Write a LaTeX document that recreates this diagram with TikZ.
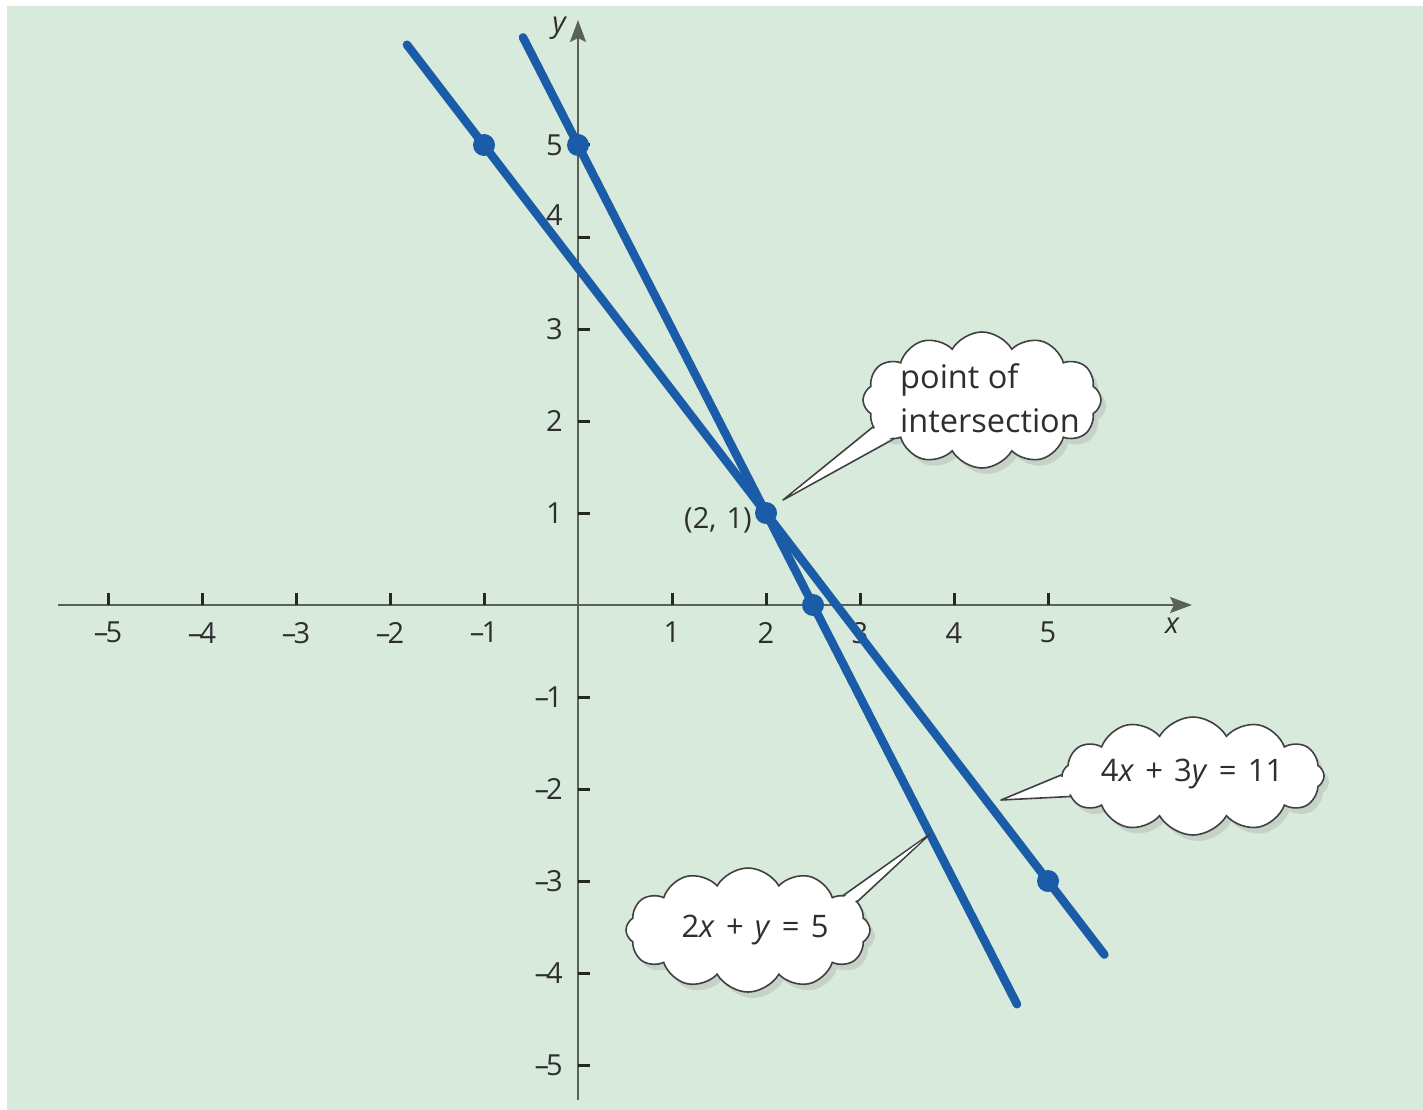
\documentclass[tikz,border=0pt]{standalone}
\usepackage{fontspec}
\setmainfont{Open Sans}
\usetikzlibrary{shapes.symbols,shadows,arrows.meta,calc}
\definecolor{bg}{HTML}{D8EADC}
\definecolor{lineblue}{HTML}{1A5CA8}
\definecolor{axisgray}{HTML}{5A605A}
\definecolor{txt}{HTML}{2E2E2E}
\newcommand{\opsp}{\hspace{0.36em}}
\newcommand{\mns}{–\kern-0.1em}
\begin{document}
\begin{tikzpicture}[x=1pt,y=-1pt,
  lbl/.style={font=\fontsize{29}{32}\selectfont, text=txt, inner sep=0pt},
  axisline/.style={draw=axisgray, line width=2pt, -{Stealth[length=22pt,width=16pt,inset=4pt]}},
  tickmark/.style={draw=black!85, line width=3pt},
  graphline/.style={draw=lineblue, line width=8.5pt, line cap=round},
  dotmark/.style={fill=lineblue},
  bubble/.style={cloud, cloud puffs=12, cloud puff arc=120, cloud ignores aspect,
     draw=black!75, line width=1.6pt, fill=white, inner sep=0pt,
     drop shadow={opacity=0.22, shadow xshift=5pt, shadow yshift=-6pt}},
  bubbletext/.style={text=txt, inner sep=0pt, font=\fontsize{31}{44}\selectfont, align=left},
  pointer/.style={draw=black!75, line width=1.6pt, fill=white, line join=round},
  pointerfill/.style={fill=white}]
\useasboundingbox (0,0) rectangle (1423,1110);
\fill[bg] (7,6) rectangle (1423,1110);

% axes
\coordinate (xs) at (58,605);
\coordinate (xe) at (1192,605);
\coordinate (ys) at (578,1100);
\coordinate (ye) at (578,20);
\draw[axisline] (xs) -- (xe);
\draw[axisline] (ys) -- (ye);
\node[lbl, font=\fontsize{29}{32}\selectfont\itshape, anchor=east] (ylab) at (566,28) {y};
\node[lbl, font=\fontsize{29}{32}\selectfont\itshape] (xlab) at (1172,626) {x};

\begin{scope}[shift={(578,605)}, x=94pt, y=92pt]
  \foreach \i/\t in {-5/\mns5,-4/\mns4,-3/\mns3,-2/\mns2,-1/\mns1,1/1,2/2,3/3,4/4,5/5}{
    \draw[tickmark] (\i,0) -- ++(0pt,12pt);
    \node[lbl, below=17pt] (xl\i) at (\i,0) {\t};
  }
  \foreach \i/\t in {-5/\mns5,-4/\mns4,-3/\mns3,-2/\mns2,-1/\mns1,1/1,2/2,3/3,5/5}{
    \draw[tickmark] (0,\i) -- ++(12pt,0pt);
    \node[lbl, left=15pt] (yl\i) at (0,\i) {\t};
  }
  \draw[tickmark] (0,4) -- ++(12pt,0pt);
  \node[lbl, left=15pt, yshift=22pt] (yl4) at (0,4) {4};

  % lines
  \coordinate (A1) at (-0.585,6.17);
  \coordinate (A2) at (4.67,-4.34);
  \coordinate (B1) at (-1.82,6.09);
  \coordinate (B2) at (5.6,-3.8);
  \draw[graphline] (B1) -- (B2);
  \draw[graphline] (A1) -- (A2);
  \coordinate (P) at (2,1);
  \fill[dotmark] (0,5) circle (11pt);
  \fill[dotmark] (-1,5) circle (11pt);
  \fill[dotmark] (2.5,0) circle (11pt);
  \fill[dotmark] (5,-3) circle (11pt);
  \fill[dotmark] (P) circle (11pt);
  \node[lbl, left=14pt, yshift=-7pt] (plab) at (P) {(2,\hspace{0.35em}1)};
\end{scope}

% callout 1
\coordinate (t1) at (783,500);
\coordinate (a1) at (900,405);
\coordinate (b1) at (910,430);
\draw[pointer] (t1) -- (a1) -- (b1) -- cycle;
\node[bubble, minimum width=238pt, minimum height=136pt] (c1) at (982,400) {};
\fill[pointerfill] ($(t1)!10pt!($(a1)!0.5!(b1)$)$) -- ($(a1)!2.5pt!(b1)$) -- ($(b1)!2.5pt!(a1)$) -- cycle;
\node[bubbletext, font=\fontsize{32.5}{44}\selectfont] (c1t) at (990,398) {point of\\intersection};

% callout 2
\coordinate (t2) at (1001,800);
\coordinate (a2) at (1090,763);
\coordinate (b2) at (1100,795);
\draw[pointer] (t2) -- (a2) -- (b2) -- cycle;
\node[bubble, minimum width=262pt, minimum height=118pt] (c2) at (1193,776) {};
\fill[pointerfill] ($(t2)!10pt!($(a2)!0.5!(b2)$)$) -- ($(a2)!2.5pt!(b2)$) -- ($(b2)!2.5pt!(a2)$) -- cycle;
\node[bubbletext] (c2t) at (1192,774) {4\textit{x}\opsp+\opsp3\textit{y}\opsp=\opsp11};

% callout 3
\coordinate (t3) at (930,834);
\coordinate (a3) at (810,919);
\coordinate (b3) at (830,927);
\draw[pointer] (t3) -- (a3) -- (b3) -- cycle;
\node[bubble, minimum width=244pt, minimum height=124pt] (c3) at (748,930) {};
\fill[pointerfill] ($(t3)!10pt!($(a3)!0.5!(b3)$)$) -- ($(a3)!2.5pt!(b3)$) -- ($(b3)!2.5pt!(a3)$) -- cycle;
\node[bubbletext] (c3t) at (755,930) {2\textit{x}\opsp+\opsp\textit{y}\opsp=\opsp5};
\end{tikzpicture}
\end{document}
